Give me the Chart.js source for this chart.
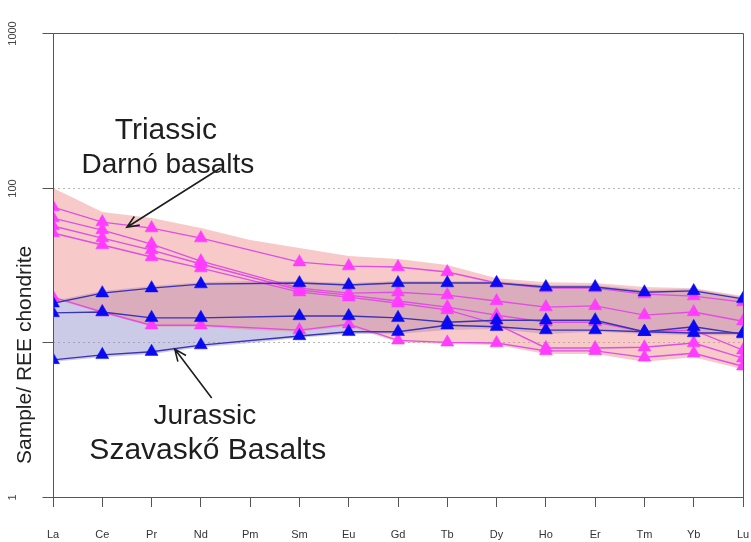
<!DOCTYPE html>
<html>
<head>
<meta charset="utf-8">
<script src="https://cdn.jsdelivr.net/npm/chart.js@4.4.1/dist/chart.umd.min.js"></script>
<style>
  html, body { margin: 0; padding: 0; background: #ffffff; }
  #wrap { width: 751px; height: 542px; }
</style>
</head>
<body>
<div id="wrap"><canvas id="ree" width="751" height="542"></canvas></div>
<script>
// Rare earth elements along the x axis (Pm has no analyses)
const elements = ['La', 'Ce', 'Pr', 'Nd', 'Pm', 'Sm', 'Eu', 'Gd', 'Tb', 'Dy', 'Ho', 'Er', 'Tm', 'Yb', 'Lu'];

// Triassic Darnó basalts, sample / chondrite
const darno1 = [74.9, 59.9, 54.8, 47.2, null, 33.0, 31.1, 30.7, 28.5, 24.2, 22.4, 22.4, 20.5, 19.9, 18.2];
const darno2 = [63.6, 53.2, 43.2, 33.5, null, 22.4, 20.8, 21.1, 20.2, 18.5, 16.9, 17.2, 15.0, 15.7, 13.7];
const darno3 = [56.5, 47.2, 39.5, 32.1, null, 21.8, 20.2, 18.5, 16.9, 15.0, 13.5, 13.5, 11.7, 12.0, 8.9];
const darno4 = [50.9, 42.6, 35.6, 30.2, null, 21.1, 19.6, 17.9, 16.2, 13.1, 9.2, 9.2, 9.3, 9.9, 7.9];
const darno5 = [19.6, 15.7, 12.9, 12.9, null, 12.0, 13.1, 10.3, 10.0, 9.9, 8.8, 8.8, 8.0, 8.5, 7.0];

// Jurassic Szavaskő basalts, sample / chondrite
const szav1 = [17.9, 20.8, 22.4, 23.8, null, 24.2, 23.5, 24.2, 24.2, 24.2, 22.8, 22.8, 21.1, 21.5, 19.1];
const szav2 = [15.5, 15.7, 14.4, 14.4, null, 14.8, 14.8, 14.4, 13.5, 13.9, 13.9, 13.9, 11.7, 12.6, 11.3];
const szav3 = [7.7, 8.3, 8.7, 9.6, null, 11.0, 11.7, 11.7, 12.9, 12.6, 12.0, 12.0, 11.7, 11.5, 11.5];

// Shaded compositional fields of the two suites
const darnoUpper = [99.4, 69.6, 63.6, 54.8, 45.8, 40.7, 36.1, 34.6, 31.6, 26.0, 24.5, 24.2, 22.8, 22.4, 19.9];
const darnoLower = [19.1, 15.5, 12.6, 12.6, 12.0, 11.7, 12.7, 10.0, 9.75, 9.6, 8.4, 8.4, 7.5, 8.0, 6.7];
const szavUpper = [18.5, 21.5, 23.1, 24.5, 24.9, 24.9, 24.2, 24.9, 24.9, 24.9, 23.5, 23.5, 21.8, 22.1, 19.6];
const szavLower = [7.5, 8.0, 8.4, 9.3, 9.9, 10.7, 11.3, 11.3, 12.0, 12.2, 11.3, 11.7, 11.3, 11.1, 11.1];

// Logarithmic y axis ticks
const yTickValues = [1, 10, 100, 1000];
const yTickLabels = ['1', '', '100', '1000'];

const FONT = '"Liberation Sans", Arial, Helvetica, sans-serif';
Chart.defaults.font.family = FONT;

const PINK_MARK = '#ff3cff';
const PINK_LINE = '#e04fe0';
const BLUE_MARK = '#0a0af2';
const BLUE_LINE = '#3c32b4';

function sampleLine(data, isBlue) {
  return {
    data: data,
    borderColor: isBlue ? BLUE_LINE : PINK_LINE,
    borderWidth: 1.4,
    pointStyle: 'triangle',
    pointRadius: 7.5,
    pointBorderWidth: 0.5,
    pointBackgroundColor: isBlue ? BLUE_MARK : PINK_MARK,
    pointBorderColor: isBlue ? BLUE_MARK : PINK_MARK,
    spanGaps: true,
    fill: false,
    tension: 0,
    clip: 0,
    order: isBlue ? 1 : 2
  };
}

function bound(data, fillTo, color, order) {
  return {
    data: data,
    borderWidth: 0,
    borderColor: 'rgba(0,0,0,0)',
    pointRadius: 0,
    backgroundColor: color,
    fill: fillTo,
    spanGaps: true,
    tension: 0,
    clip: 0,
    order: order
  };
}

const datasets = [
  sampleLine(szav1, true),
  sampleLine(szav2, true),
  sampleLine(szav3, true),
  sampleLine(darno1, false),
  sampleLine(darno2, false),
  sampleLine(darno3, false),
  sampleLine(darno4, false),
  sampleLine(darno5, false),
  bound(darnoUpper, '+1', 'rgba(238,135,135,0.45)', 3),   // index 8
  bound(darnoLower, false, 'rgba(0,0,0,0)', 3),            // index 9
  bound(szavUpper, '+1', 'rgba(140,140,205,0.45)', 4),    // index 10
  bound(szavLower, false, 'rgba(0,0,0,0)', 4)              // index 11
];

function arrow(ctx, x1, y1, x2, y2) {
  const ang = Math.atan2(y2 - y1, x2 - x1);
  const h = 13, spread = 0.4;
  ctx.beginPath();
  ctx.moveTo(x1, y1);
  ctx.lineTo(x2, y2);
  ctx.moveTo(x2 - h * Math.cos(ang - spread), y2 - h * Math.sin(ang - spread));
  ctx.lineTo(x2, y2);
  ctx.lineTo(x2 - h * Math.cos(ang + spread), y2 - h * Math.sin(ang + spread));
  ctx.stroke();
}

const framePlugin = {
  id: 'frame',
  beforeDraw(chart) {
    // dotted reference lines at each decade
    const { ctx, chartArea: a, scales: { y } } = chart;
    ctx.save();
    ctx.strokeStyle = '#b5b5b5';
    ctx.lineWidth = 1;
    ctx.setLineDash([2, 3]);
    yTickValues.forEach(v => {
      if (v === 1) return;
      const py = Math.round(y.getPixelForValue(v)) + 0.5;
      ctx.beginPath();
      ctx.moveTo(a.left, py);
      ctx.lineTo(a.right, py);
      ctx.stroke();
    });
    ctx.restore();
  },
  afterDraw(chart) {
    const { ctx, chartArea: a, scales: { x, y } } = chart;
    ctx.save();
    // plot box
    ctx.strokeStyle = '#555555';
    ctx.lineWidth = 1;
    const L = Math.round(a.left) + 0.5, R = Math.round(a.right) + 0.5;
    const T = Math.round(a.top) + 0.5, B = Math.round(a.bottom) + 0.5;
    ctx.beginPath();
    ctx.moveTo(L, T); ctx.lineTo(R, T); ctx.lineTo(R, B); ctx.lineTo(L, B); ctx.closePath();
    ctx.stroke();
    // y ticks and rotated labels
    ctx.fillStyle = '#444444';
    ctx.font = '11px ' + FONT;
    ctx.textAlign = 'center';
    ctx.textBaseline = 'middle';
    yTickValues.forEach((v, i) => {
      const py = Math.round(y.getPixelForValue(v)) + 0.5;
      ctx.beginPath();
      ctx.moveTo(L - 11, py);
      ctx.lineTo(L, py);
      ctx.stroke();
      if (yTickLabels[i]) {
        ctx.save();
        ctx.translate(13, py);
        ctx.rotate(-Math.PI / 2);
        ctx.fillText(yTickLabels[i], 0, 0);
        ctx.restore();
      }
    });
    // axis title
    ctx.save();
    ctx.fillStyle = '#222222';
    ctx.font = '21px ' + FONT;
    ctx.translate(25, y.getPixelForValue(8.3));
    ctx.rotate(-Math.PI / 2);
    ctx.fillText('Sample/ REE chondrite', 0, 0);
    ctx.restore();

    // suite labels and arrows, anchored in data space
    const at = (idx, val) => [x.getPixelForValue(idx), y.getPixelForValue(val)];
    ctx.fillStyle = '#1e1e1e';
    ctx.textAlign = 'center';
    ctx.textBaseline = 'alphabetic';
    let p;
    ctx.font = '30px ' + FONT;
    p = at(2.29, 206); ctx.fillText('Triassic', p[0], p[1]);
    ctx.font = '28px ' + FONT;
    p = at(2.33, 124); ctx.fillText('Darnó basalts', p[0], p[1]);
    ctx.font = '28px ' + FONT;
    p = at(3.08, 2.96); ctx.fillText('Jurassic', p[0], p[1]);
    ctx.font = '30px ' + FONT;
    p = at(3.14, 1.76); ctx.fillText('Szavaskő Basalts', p[0], p[1]);

    ctx.strokeStyle = '#1e1e1e';
    ctx.lineWidth = 1.6;
    const a1 = at(3.40, 134), a2 = at(1.50, 55.5);
    arrow(ctx, a1[0], a1[1], a2[0], a2[1]);
    const b1 = at(3.22, 4.36), b2 = at(2.47, 9.05);
    arrow(ctx, b1[0], b1[1], b2[0], b2[1]);
    ctx.restore();
  }
};

new Chart(document.getElementById('ree'), {
  type: 'line',
  data: { labels: elements, datasets: datasets },
  options: {
    responsive: false,
    animation: false,
    devicePixelRatio: 1,
    layout: { padding: { top: 33, right: 7, left: 0, bottom: 0 } },
    plugins: {
      legend: { display: false },
      tooltip: { enabled: false },
      filler: { drawTime: 'beforeDatasetsDraw' }
    },
    scales: {
      x: {
        type: 'category',
        offset: false,
        grid: { display: true, drawOnChartArea: false, drawTicks: true, tickLength: 10, tickColor: '#555555', color: '#555555' },
        border: { display: false },
        ticks: { color: '#333333', font: { size: 11 }, padding: 21, maxRotation: 0, autoSkip: false },
        afterFit: s => { s.height = 45; s.paddingLeft = 0; s.paddingRight = 0; }
      },
      y: {
        type: 'logarithmic',
        min: 1,
        max: 1000,
        position: 'left',
        grid: { display: false },
        border: { display: false },
        ticks: { display: false },
        afterBuildTicks: s => { s.ticks = yTickValues.map(v => ({ value: v })); },
        afterFit: s => { s.width = 53; s.paddingTop = 0; s.paddingBottom = 0; }
      }
    }
  },
  plugins: [framePlugin]
});
</script>
</body>
</html>
